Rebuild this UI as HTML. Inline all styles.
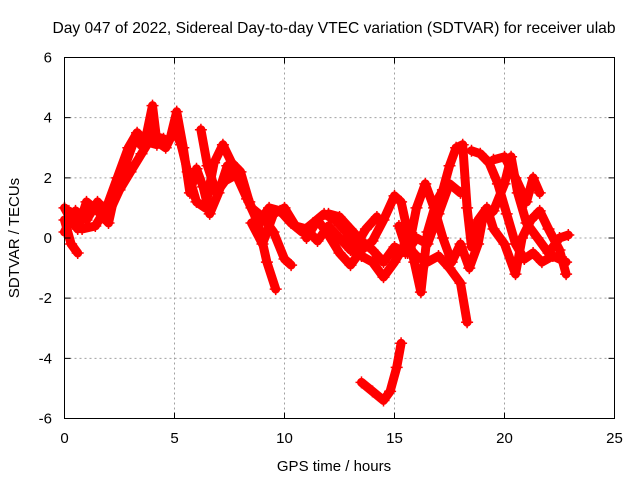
<!DOCTYPE html>
<html><head><meta charset="utf-8"><style>
body{margin:0;background:#fff;}
svg{display:block;font-family:"Liberation Sans",sans-serif;}
</style></head><body>
<svg id="chart" width="640" height="480" viewBox="0 0 640 480" xmlns="http://www.w3.org/2000/svg">
<rect width="640" height="480" fill="#fff"/>
<g id="grid"></g>
<g id="series"></g>
<rect x="64.5" y="57.5" width="550" height="361" fill="none" stroke="#000" stroke-width="1"/>
<g id="ticks" font-size="14" fill="#000"></g>
<text x="334" y="33" font-size="15.6" text-anchor="middle">Day 047 of 2022, Sidereal Day-to-day VTEC variation (SDTVAR) for receiver ulab</text>
<text x="334" y="471" font-size="15" text-anchor="middle">GPS time / hours</text>
<text x="19" y="238" font-size="15" text-anchor="middle" transform="rotate(-90 19 238)">SDTVAR / TECUs</text>
</svg>
<script>
const xTicks=[0,5,10,15,20,25];
const yTicks=[-6,-4,-2,0,2,4,6];
const trackA=[[0,1.0],[0.3,0.6],[0.6,0.3],[1,1.2],[1.5,0.9],[2,0.5],[2.3,1.5],[2.8,2.5],[3.2,3.3],[3.6,3.0],[4,4.4],[4.2,3.2],[4.6,3.0],[5.0,3.6],[5.3,3.1],[5.6,2.2],[6,1.2],[6.4,1.0],[6.8,2.5],[7.2,3.1],[7.6,2.5],[8,2.2],[8.4,1.2],[8.8,0.5],[9.2,-0.8],[9.6,-1.7]];
const trackB=[[0,0.6],[0.3,-0.2],[0.6,-0.5]];
const trackC=[[0.2,0.9],[0.8,0.3],[1.4,0.4],[1.9,1.0],[2.4,2.0],[2.9,3.0],[3.3,3.5],[3.7,3.2],[4.2,3.1],[4.8,3.3],[5.1,4.2],[5.4,3.0],[5.7,1.5],[6.0,2.3],[6.3,1.7],[6.6,0.8],[7,1.5],[7.4,2.4],[8,2.0],[8.5,1.0],[9,0.7],[9.5,0.2],[10,-0.7],[10.3,-0.9]];
const trackD=[[6.2,3.6],[6.5,2.4],[6.9,1.5],[7.3,1.9],[7.8,2.1],[8.3,1.3],[8.8,0.5],[9.3,1.0],[9.8,0.9],[10.3,0.5],[10.8,0.2],[11.3,0.5],[11.8,0.8],[12.3,0.6],[12.8,0.2],[13.2,-0.3],[13.7,0.3],[14.2,0.7]];
const trackE=[[8.5,0.5],[9,-0.2],[9.5,0.8],[10,1.0],[10.5,0.4],[11,0.3],[11.5,-0.1],[12,0.4],[12.5,0.0],[13,-0.4],[13.5,-0.6],[14,-0.8],[14.5,-1.3],[15,-0.8],[15.5,-0.2],[16,-0.6],[16.5,-0.8],[17,-0.6],[17.5,-1.0],[18,-1.5],[18.3,-2.8]];
const trackF=[[11,0.0],[11.5,0.6],[12,0.1],[12.5,-0.5],[13,-0.9],[13.5,-0.4],[14,-0.1],[14.5,0.6],[15,1.4],[15.3,1.2],[15.6,0.2],[15.9,-0.8],[16.2,-1.8],[16.5,0.2],[16.9,1.2],[17.2,1.6],[17.5,2.4],[17.8,3.0],[18.1,3.1],[18.3,1.0],[18.5,-0.3],[18.8,0.6],[19.2,1.0],[19.5,0.3],[20,-0.2],[20.5,-1.2],[20.8,0.0],[21.2,0.6],[21.6,0.9],[22,0.3],[22.5,-0.4],[22.8,-1.2]];
const trackG=[[15.2,0.4],[15.6,-0.5],[16,1.0],[16.4,1.8],[16.8,1.0],[17.2,0.0],[17.6,-0.8],[18.0,-0.2],[18.4,-1.0],[18.8,-0.2],[19.0,0.6],[19.5,0.9],[20.0,1.8],[20.3,2.7],[20.6,1.5],[21.0,0.5],[21.5,0.0],[22,-0.5],[22.5,0.0],[22.9,0.1]];
const trackH=[[18.5,2.9],[18.9,2.8],[19.3,2.5],[19.7,1.8],[20.1,0.8],[20.5,-0.2],[20.9,-0.7],[21.3,-0.5],[21.7,-0.8],[22.2,-0.6],[22.8,-0.8]];
const trackI=[[19.5,2.6],[20,2.7],[20.5,2.0],[21,1.2],[21.3,2.0],[21.6,1.5]];
const trackJ=[[0,0.2],[0.5,0.9],[1,0.6],[1.5,1.2],[2,0.8],[2.5,1.6],[3,2.2],[3.5,2.8],[4,3.4],[4.5,3.3]];
const trackK=[[12,0.8],[12.5,0.7],[13,0.3],[13.5,-0.1],[14,-0.4],[14.5,-0.8],[15,-0.3],[15.5,-0.5],[16,0.0],[16.5,-0.2],[17,0.8],[17.5,1.8],[18,1.5]];
const trackNeg=[[13.5,-4.8],[14,-5.1],[14.5,-5.4],[14.8,-5.1],[15.1,-4.3],[15.3,-3.5]];
const tracks=[trackA,trackB,trackC,trackD,trackE,trackF,trackG,trackH,trackI,trackJ,trackK,trackNeg];

const X0=64.5,X1=614.5,Y0=418.5,Y1=57.5;
const xs=v=>X0+(v-0)/25*(X1-X0);
const ys=v=>Y0-(v+6)/12*(Y0-Y1);
const NS="http://www.w3.org/2000/svg";
const grid=document.getElementById('grid'),ticks=document.getElementById('ticks'),ser=document.getElementById('series');
function mk(t,a){const e=document.createElementNS(NS,t);for(const k in a)e.setAttribute(k,a[k]);return e;}
xTicks.forEach(v=>{
  const x=xs(v);
  if(v>0&&v<25){const g=mk('line',{x1:x,x2:x,y1:Y1,y2:Y0,stroke:'#a0a0a0','stroke-dasharray':'2,3'});
  
  grid.appendChild(g);}
  const tk=mk('path',{d:`M${x},${Y0}v-6M${x},${Y1}v6`,stroke:'#000'});
  
  ticks.appendChild(tk);
  const t=mk('text',{x:x,y:443,'text-anchor':'middle','font-size':15});t.textContent=v;
  
  ticks.appendChild(t);
});
yTicks.forEach(v=>{
  const y=ys(v);
  if(v>-6&&v<6){const g=mk('line',{x1:X0,x2:X1,y1:y,y2:y,stroke:'#a0a0a0','stroke-dasharray':'2,3'});
  
  grid.appendChild(g);}
  const tk=mk('path',{d:`M${X0},${y}h6M${X1},${y}h-6`,stroke:'#000'});
  
  ticks.appendChild(tk);
  const t=mk('text',{x:52,y:y+5,'text-anchor':'end','font-size':15});t.textContent=v;
  
  ticks.appendChild(t);
});
tracks.forEach((tr,i)=>{
  const pts=tr.map(p=>xs(p[0]).toFixed(1)+','+ys(p[1]).toFixed(1)).join(' ');
  const pl=mk('polyline',{points:pts,fill:'none',stroke:'#ff0000','stroke-width':9,'stroke-linejoin':'round','stroke-linecap':'round'});
  
  
  ser.appendChild(pl);
  tr.forEach(p=>{
    const x=xs(p[0]),y=ys(p[1]);
    const m=mk('path',{d:`M${x-6},${y}h12M${x},${y-6}v12`,stroke:'#ff0000','stroke-width':1.5});
    
    
    ser.appendChild(m);
  });
});
</script>
</body></html>
